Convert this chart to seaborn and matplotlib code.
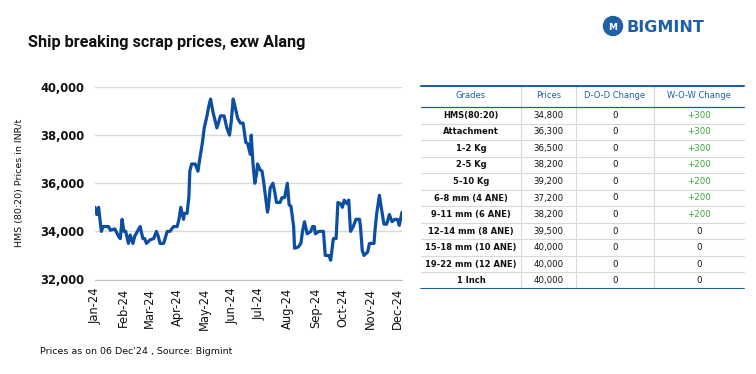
import matplotlib
matplotlib.use("Agg")
import matplotlib.pyplot as plt
import matplotlib.dates as mdates
from matplotlib.patches import Ellipse
import seaborn as sns
import pandas as pd

# ---------------- data ----------------
dates = ["2024-01-01","2024-01-03","2024-01-05","2024-01-08","2024-01-10","2024-01-16","2024-01-18","2024-01-23","2024-01-27","2024-01-29","2024-01-31",
         "2024-02-02","2024-02-04","2024-02-07","2024-02-09","2024-02-12","2024-02-14","2024-02-20","2024-02-23","2024-02-25","2024-02-27",
         "2024-03-02","2024-03-06","2024-03-09","2024-03-11","2024-03-13","2024-03-17","2024-03-21","2024-03-24","2024-03-28",
         "2024-04-01","2024-04-03","2024-04-05","2024-04-08","2024-04-09","2024-04-12","2024-04-14","2024-04-15","2024-04-17","2024-04-21","2024-04-24","2024-04-26","2024-04-29",
         "2024-05-01","2024-05-04","2024-05-06","2024-05-08","2024-05-11","2024-05-15","2024-05-19","2024-05-23","2024-05-26","2024-05-29","2024-05-31",
         "2024-06-02","2024-06-04","2024-06-07","2024-06-10","2024-06-13","2024-06-16","2024-06-18","2024-06-21","2024-06-22","2024-06-24","2024-06-26","2024-06-28","2024-06-29",
         "2024-07-02","2024-07-04","2024-07-06","2024-07-08","2024-07-10","2024-07-11","2024-07-13","2024-07-16","2024-07-18","2024-07-20","2024-07-24","2024-07-26","2024-07-29",
         "2024-08-01","2024-08-03","2024-08-05","2024-08-08","2024-08-09","2024-08-13","2024-08-16","2024-08-18","2024-08-20","2024-08-23","2024-08-27","2024-08-29","2024-08-31",
         "2024-09-01","2024-09-05","2024-09-10","2024-09-12","2024-09-16","2024-09-18","2024-09-21","2024-09-24","2024-09-26","2024-09-29",
         "2024-10-01","2024-10-03","2024-10-06","2024-10-08","2024-10-10","2024-10-13","2024-10-16","2024-10-20","2024-10-21","2024-10-23","2024-10-25","2024-10-29","2024-10-31",
         "2024-11-05","2024-11-06","2024-11-08","2024-11-11","2024-11-13","2024-11-16","2024-11-19","2024-11-22","2024-11-25","2024-11-28",
         "2024-12-01","2024-12-03","2024-12-06"]
hms_prices = [35000,34700,35000,34000,34200,34200,34050,34100,33800,33700,34500,
              34000,34000,33500,33850,33500,33800,34200,33700,33700,33500,
              33650,33700,34000,33800,33500,33500,34000,34000,34200,
              34200,34500,35000,34500,34750,34750,35450,36500,36800,36800,36500,37000,37700,
              38300,38800,39200,39500,38900,38300,38800,38800,38300,38000,38600,
              39500,39200,38700,38500,38500,37700,37650,37200,38000,36800,36000,36400,36800,
              36550,36500,36000,35400,34800,35000,35800,36000,35650,35200,35200,35400,35400,
              36000,35100,35050,34200,33300,33350,33500,34050,34400,33900,34000,34200,34200,
              33900,34000,34000,33000,33000,32800,33700,33700,35200,35150,
              35000,35300,35150,35300,34000,34200,34500,34500,34200,33200,33000,33150,33500,
              33500,34000,34750,35500,35000,34300,34300,34700,34400,34500,
              34500,34250,34800]

y_ticks = [32000, 34000, 36000, 38000, 40000]

table_header = ["Grades", "Prices", "D-O-D Change", "W-O-W Change"]
grades = ["HMS(80:20)", "Attachment", "1-2 Kg", "2-5 Kg", "5-10 Kg", "6-8 mm (4 ANE)",
          "9-11 mm (6 ANE)", "12-14 mm (8 ANE)", "15-18 mm (10 ANE)", "19-22 mm (12 ANE)", "1 Inch"]
grade_prices = ["34,800", "36,300", "36,500", "38,200", "39,200", "37,200",
                "38,200", "39,500", "40,000", "40,000", "40,000"]
dod_change = ["0"] * 11
wow_change = ["+300", "+300", "+300", "+200", "+200", "+200", "+200", "0", "0", "0", "0"]

title = "Ship breaking scrap prices, exw Alang"
y_label = "HMS (80:20) Prices in INR/t"
footer = "Prices as on 06 Dec'24 , Source: Bigmint"

# ---------------- style ----------------
sns.set_style("white")
plt.rcParams['font.family'] = ['DejaVu Sans']

LINE = "#0b4ea2"
BLUE = "#1f5fa8"
GREEN = "#3aaa35"
GRID = "#d9d9d9"
INK = "#111111"

W, H = 756, 374
fig = plt.figure(figsize=(W / 100, H / 100), dpi=100)

def fx(px):
    return px / W

def fy(py):
    return 1 - py / H

# ---------------- line chart ----------------
df = pd.DataFrame({"date": pd.to_datetime(dates), "price": hms_prices})
ax = fig.add_axes([fx(95), fy(279.5), fx(402) - fx(95), fy(87) - fy(279.5)])
sns.lineplot(data=df, x="date", y="price", ax=ax, color=LINE, linewidth=2.3)
ax.set_xlim(pd.Timestamp("2024-01-01"), pd.Timestamp("2024-12-06"))
ax.set_ylim(32000, 40000)
ax.set_yticks(y_ticks)
ax.set_yticklabels([f"{v:,}" for v in y_ticks], fontsize=8.3, fontweight="bold", color=INK)
ax.yaxis.grid(True, color=GRID, linewidth=1)
ax.set_axisbelow(True)
ax.xaxis.set_major_locator(mdates.MonthLocator())
ax.xaxis.set_major_formatter(mdates.DateFormatter("%b-%y"))
for lab in ax.get_xticklabels():
    lab.set_rotation(90)
    lab.set_fontsize(8.3)
    lab.set_color(INK)
ax.tick_params(axis="x", length=4, width=1, color="#bfbfbf", pad=2)
ax.tick_params(axis="y", length=0, pad=8)
for s in ["top", "right", "left"]:
    ax.spines[s].set_visible(False)
ax.spines["bottom"].set_color("#bfbfbf")
ax.set_xlabel("")
ax.set_ylabel(y_label, fontsize=6.8, color=INK, labelpad=11)

# ---------------- title / footer / logo ----------------
fig.text(fx(28), fy(42), title, fontsize=11.7, fontweight="bold", family=["Roboto", "DejaVu Sans"],
         va="center", ha="left", color=INK)
fig.text(fx(40), fy(352), footer, fontsize=6.8, va="center", ha="left", color=INK)
fig.text(fx(626), fy(27), "BIGMINT", fontsize=11.5, fontweight="bold", va="center", ha="left", color=BLUE)
logo = Ellipse((fx(613), fy(26)), 19 / W, 19 / H, transform=fig.transFigure, color=BLUE)
fig.add_artist(logo)
fig.text(fx(613), fy(27), "M", fontsize=6.5, fontweight="bold", color="white", ha="center", va="center")

# ---------------- table ----------------
tx0, tx1, ty0, ty1 = 420, 745, 85, 289
tab = fig.add_axes([fx(tx0), fy(ty1), fx(tx1) - fx(tx0), fy(ty0) - fy(ty1)])
tab.set_xlim(0, tx1 - tx0)
tab.set_ylim(ty1 - ty0, 0)
tab.axis("off")
col_edges = [1, 101, 156, 234, 324]
header_h = 22
n = len(grades)
row_h = (ty1 - ty0 - header_h) / n
for xe in col_edges[1:-1]:
    tab.plot([xe, xe], [0, ty1 - ty0], color=GRID, linewidth=0.8)
tab.plot([col_edges[0], col_edges[-1]], [0.5, 0.5], color=BLUE, linewidth=1.5)
tab.plot([col_edges[0], col_edges[-1]], [header_h, header_h], color=BLUE, linewidth=0.9)
for i in range(1, n):
    yy = header_h + i * row_h
    tab.plot([col_edges[0], col_edges[-1]], [yy, yy], color=GRID, linewidth=0.8)
tab.plot([col_edges[0], col_edges[-1]], [ty1 - ty0 - 0.5, ty1 - ty0 - 0.5], color=BLUE, linewidth=1.5)
centers = [(col_edges[i] + col_edges[i + 1]) / 2 for i in range(4)]
for j, h in enumerate(table_header):
    tab.text(centers[j], header_h / 2, h, fontsize=6.0, color=BLUE, ha="center", va="center")
for i in range(n):
    yc = header_h + (i + 0.5) * row_h
    tab.text(centers[0], yc, grades[i], fontsize=6.0, fontweight="bold", color=INK, ha="center", va="center")
    tab.text(centers[1], yc, grade_prices[i], fontsize=6.2, color=INK, ha="center", va="center")
    tab.text(centers[2], yc, dod_change[i], fontsize=6.2, color=INK, ha="center", va="center")
    wc = GREEN if wow_change[i].startswith("+") else INK
    tab.text(centers[3], yc, wow_change[i], fontsize=6.2, color=wc, ha="center", va="center")

fig.savefig("out.png", dpi=100)
